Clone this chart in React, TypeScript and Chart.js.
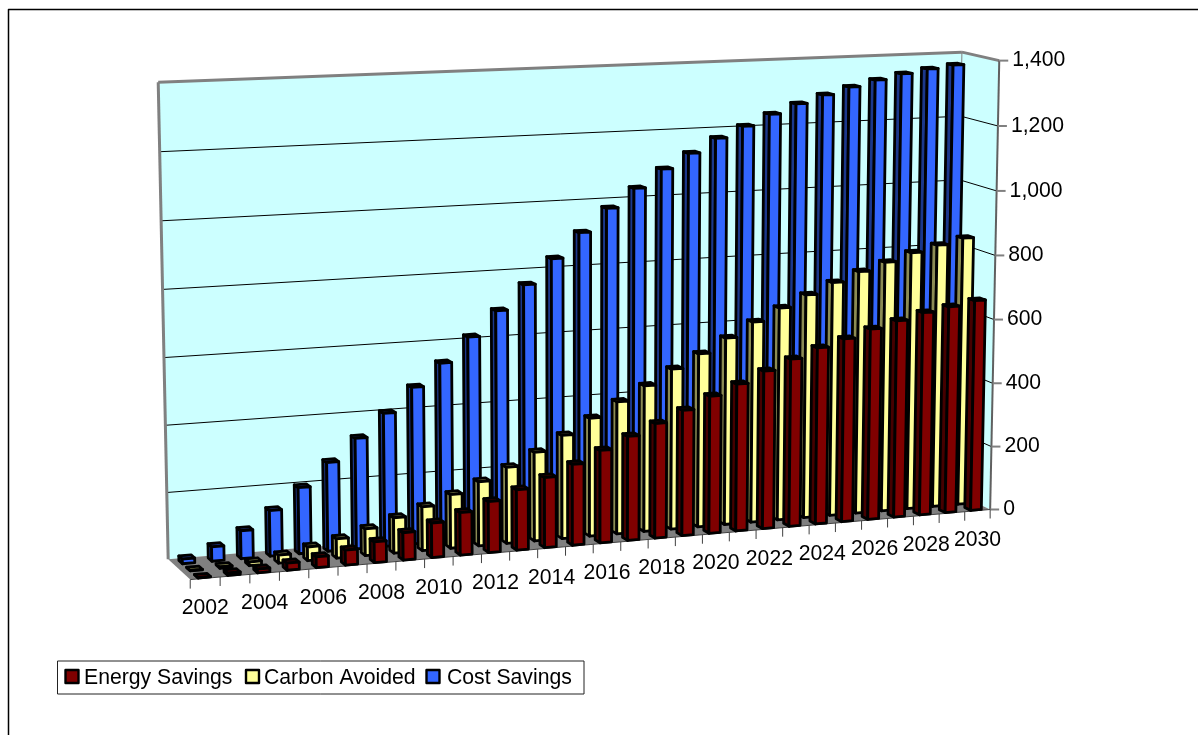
import React, { useEffect, useRef } from "react";
import { Chart, registerables } from "chart.js";

Chart.register(...registerables);

const years = ["2002","2003","2004","2005","2006","2007","2008","2009","2010","2011","2012","2013","2014","2015","2016","2017","2018","2019","2020","2021","2022","2023","2024","2025","2026","2027","2028","2029","2030"];
const energySavings = [1,7,11,21,32,45,62,82,104,128,154,183,213,246,282,318,351,385,422,453,487,518,547,569,594,614,634,647,661];
const carbonAvoided = [1,4,11,24,41,58,81,107,133,163,195,232,271,316,362,406,449,494,535,578,622,660,695,728,757,781,806,825,842];
const costSavings = [14,43,84,137,199,268,334,403,475,542,615,689,762,836,910,979,1035,1089,1133,1175,1208,1241,1269,1293,1314,1332,1348,1360,1369];

const FONT = "21.2px 'Liberation Sans', Arial, sans-serif";
const FLOOR = "#808080";
const WALL = "#CCFFFF";

// 3D box calibration: (u across, v into the page, h up) -> picture position
const boxCorners: number[][] = [
  [0, 0, 0, 190.7, 580],
  [1, 0, 0, 990, 509.5],
  [1, 0, 1, 999, 60.3],
  [0, 1, 0, 168, 559],
  [0, 1, 1, 158, 82],
  [1, 1, 1, 961, 52],
  [1, 1, 6 / 7, 962, 117],
  [0, 1, 6 / 7, 160, 152],
  [1, 0, 6 / 7, 998, 125.7],
  [0, 1, 1 / 7, 166.5, 492],
  [28 / 29, 0, 0, 964.7, 511.6],
  [4 / 29, 0, 0, 308.7, 569.6],
];
const depthRows = [[0.04, 0.2], [0.39, 0.55], [0.74, 0.9]];

function solveCamera(pts: number[][]) {
  const rows: number[][] = [];
  for (const [u, v, h, X, Y] of pts) {
    rows.push([u, v, h, 1, 0, 0, 0, 0, -X * u, -X * v, -X * h, X]);
    rows.push([0, 0, 0, 0, u, v, h, 1, -Y * u, -Y * v, -Y * h, Y]);
  }
  const n = 11;
  const A = Array.from({ length: n }, () => new Array(n + 1).fill(0));
  for (const r of rows) for (let i = 0; i < n; i++) for (let j = 0; j <= n; j++) A[i][j] += r[i] * r[j];
  for (let i = 0; i < n; i++) {
    let m = i;
    for (let k = i + 1; k < n; k++) if (Math.abs(A[k][i]) > Math.abs(A[m][i])) m = k;
    [A[i], A[m]] = [A[m], A[i]];
    for (let k = 0; k < n; k++) {
      if (k === i) continue;
      const f = A[k][i] / A[i][i];
      for (let j = i; j <= n; j++) A[k][j] -= f * A[i][j];
    }
  }
  return A.map((r, i) => r[n] / r[i]);
}
const cam = solveCamera(boxCorners);
function P(u: number, v: number, h: number): [number, number] {
  const w = cam[8] * u + cam[9] * v + cam[10] * h + 1;
  return [
    (cam[0] * u + cam[1] * v + cam[2] * h + cam[3]) / w,
    (cam[4] * u + cam[5] * v + cam[6] * h + cam[7]) / w,
  ];
}

function poly(ctx: CanvasRenderingContext2D, pts: [number, number][], fill?: string, stroke?: string, lw = 1) {
  ctx.beginPath();
  pts.forEach((p, i) => (i ? ctx.lineTo(p[0], p[1]) : ctx.moveTo(p[0], p[1])));
  ctx.closePath();
  if (fill) { ctx.fillStyle = fill; ctx.fill(); }
  if (stroke) { ctx.strokeStyle = stroke; ctx.lineWidth = lw; ctx.stroke(); }
}
function line(ctx: CanvasRenderingContext2D, a: [number, number], b: [number, number], color: string, lw: number) {
  ctx.beginPath();
  ctx.moveTo(a[0], a[1]);
  ctx.lineTo(b[0], b[1]);
  ctx.strokeStyle = color;
  ctx.lineWidth = lw;
  ctx.stroke();
}
function shade(hex: string, f: number) {
  const n = parseInt(hex.slice(1), 16);
  return `rgb(${((n >> 16) & 255) * f},${((n >> 8) & 255) * f},${(n & 255) * f})`;
}

const box3d = {
  id: "box3d",
  beforeDatasetsDraw(chart: any) {
    const { ctx, scales: { y } } = chart;
    const hOf = (px: number) => (y.bottom - px) / (y.bottom - y.top);
    ctx.save();
    ctx.lineJoin = "round";
    // frame of the chart
    ctx.beginPath();
    ctx.moveTo(8.5, 735);
    ctx.lineTo(8.5, 9.5);
    ctx.lineTo(1198, 9.5);
    ctx.strokeStyle = "#000";
    ctx.lineWidth = 1.5;
    ctx.stroke();
    // walls and floor
    poly(ctx, [P(0, 1, 0), P(1, 1, 0), P(1, 1, 1), P(0, 1, 1)], WALL);
    poly(ctx, [P(1, 1, 0), P(1, 0, 0), P(1, 0, 1), P(1, 1, 1)], WALL);
    poly(ctx, [P(0, 0, 0), P(1, 0, 0), P(1, 1, 0), P(0, 1, 0)], FLOOR);
    for (const t of y.ticks) {
      const h = hOf(y.getPixelForValue(t.value));
      if (t.value > 0 && t.value < 1400) {
        line(ctx, P(0, 1, h), P(1, 1, h), "#000", 1);
        line(ctx, P(1, 1, h), P(1, 0, h), "#000", 1);
      }
    }
    line(ctx, P(0, 1, 0), P(0, 1, 1), FLOOR, 3);
    line(ctx, P(0, 1, 1), P(1, 1, 1), FLOOR, 3);
    line(ctx, P(1, 1, 1), P(1, 1, 0), FLOOR, 1);
    line(ctx, P(1, 1, 1), P(1, 0, 1), FLOOR, 3);
    // value axis
    line(ctx, P(1, 0, 0), P(1, 0, 1), "#606060", 2);
    ctx.font = FONT;
    ctx.fillStyle = "#000";
    ctx.textAlign = "left";
    ctx.textBaseline = "middle";
    for (const t of y.ticks) {
      const [px, py] = P(1, 0, hOf(y.getPixelForValue(t.value)));
      line(ctx, [px, py], [px + 9, py], FLOOR, 2);
      ctx.fillStyle = "#000";
      ctx.fillText(t.label, px + 13, py);
    }
    // category axis
    const { x } = chart.scales;
    line(ctx, P(0, 0, 0), P(1, 0, 0), "#404040", 1);
    const span = x.right - x.left;
    const cats = chart.data.labels.length;
    for (let i = 0; i <= cats; i++) {
      const p = P(i / cats, 0, 0);
      line(ctx, p, [p[0], p[1] + 9], "#404040", 1);
    }
    ctx.textAlign = "center";
    x.ticks.forEach((t: any, i: number) => {
      if (!t.label) return;
      const [px, py] = P((x.getPixelForTick(i) - x.left) / span, 0, 0);
      ctx.fillStyle = "#000";
      ctx.fillText(t.label, px, py + 30);
    });
    // legend
    poly(ctx, [[57.5, 661], [584, 661], [584, 694], [57.5, 694]], "#fff", "#222", 1);
    const swatchX = [65.5, 246, 426.5];
    const textX = [84, 264, 447];
    chart.data.datasets.forEach((d: any, i: number) => {
      poly(ctx, [[swatchX[i], 670], [swatchX[i] + 13, 670], [swatchX[i] + 13, 683], [swatchX[i], 683]], d.backgroundColor, "#000", 2.4);
      ctx.fillStyle = "#000";
      ctx.textAlign = "left";
      ctx.fillText(d.label, textX[i], 678);
    });
    ctx.restore();
  },
  beforeDatasetDraw(chart: any, args: any) {
    const { ctx, scales: { x, y } } = chart;
    const span = x.right - x.left;
    const [v0, v1] = depthRows[args.index];
    const col = chart.data.datasets[args.index].backgroundColor;
    ctx.save();
    ctx.lineJoin = "round";
    for (const el of args.meta.data) {
      const u0 = (el.x - el.width / 2 - x.left) / span;
      const u1 = (el.x + el.width / 2 - x.left) / span;
      const h = (y.bottom - el.y) / (y.bottom - y.top);
      poly(ctx, [P(u0, v1, 0), P(u0, v0, 0), P(u0, v0, h), P(u0, v1, h)], shade(col, 0.55), "#000", 2.8);
      poly(ctx, [P(u0, v0, h), P(u1, v0, h), P(u1, v1, h), P(u0, v1, h)], shade(col, 0.55), "#000", 2.8);
      poly(ctx, [P(u0, v0, 0), P(u1, v0, 0), P(u1, v0, h), P(u0, v0, h)], col, "#000", 2.8);
    }
    ctx.restore();
    return false;
  },
};

export default function App() {
  const ref = useRef<HTMLCanvasElement>(null);
  useEffect(() => {
    const chart = new Chart(ref.current!, {
      type: "bar",
      data: {
        labels: years,
        datasets: [
          { label: "Energy Savings", data: energySavings, backgroundColor: "#800000" },
          { label: "Carbon Avoided", data: carbonAvoided, backgroundColor: "#FFFF99" },
          { label: "Cost Savings", data: costSavings, backgroundColor: "#3366FF" },
        ],
      },
      options: {
        responsive: false,
        animation: false,
        events: [],
        layout: { padding: { left: 190.7, right: 208, top: 60, bottom: 226 } },
        datasets: { bar: { grouped: false, barPercentage: 0.42, categoryPercentage: 1 } },
        plugins: { legend: { display: false }, tooltip: { enabled: false } },
        scales: {
          x: {
            display: false,
            ticks: { autoSkip: false, callback: (_v: any, i: number) => (i % 2 === 0 ? years[i] : "") },
          },
          y: {
            display: false,
            min: 0,
            max: 1400,
            ticks: { stepSize: 200, callback: (v: any) => Number(v).toLocaleString("en-US") },
          },
        },
      },
      plugins: [box3d],
    } as any);
    return () => chart.destroy();
  }, []);
  return (
    <canvas
      ref={ref}
      width={1198}
      height={735}
      style={{ position: "absolute", left: 0, top: 0, display: "block", width: 1198, height: 735 }}
    />
  );
}
